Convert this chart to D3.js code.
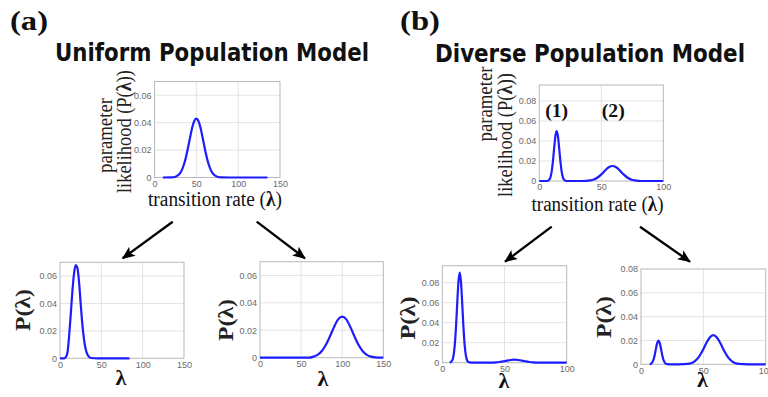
<!DOCTYPE html>
<html><head><meta charset="utf-8">
<script src="https://cdn.jsdelivr.net/npm/d3@7"></script>
<style>body{margin:0;background:#fff}</style>
</head><body>
<svg id="c" width="768" height="397" xmlns="http://www.w3.org/2000/svg"></svg>
<script>
// ---------- DATA ----------
const uniformXTicks = [0, 50, 100, 150];
const uniformYTicks = [0, 0.02, 0.04, 0.06];
const diverseXTicks = [0, 50, 100];
const diverseYTicks = [0, 0.02, 0.04, 0.06, 0.08];

// (a) top: uniform population prior
const uniTopLambda = [10,20,25,27.5,30,32.5,35,37.5,40,42.5,45,47.5,50,52.5,55,57.5,60,62.5,65,67.5,70,72.5,75,80,90,135];
const uniTopP      = [0,0.0001,0.0006,0.0013,0.0027,0.0052,0.0091,0.0146,0.0215,0.0291,0.0362,0.0412,0.043,0.0412,0.0362,0.0291,0.0215,0.0146,0.0091,0.0052,0.0027,0.0013,0.0006,0.0001,0,0];
// (a) bottom left
const uniLeftLambda = [0,5,7,9,11,13,15,17,19,21,23,25,27,29,31,33,35,38,45,60,84];
const uniLeftP      = [0,0,0.0008,0.004,0.016,0.032,0.049,0.062,0.068,0.066,0.056,0.040,0.025,0.014,0.0068,0.003,0.0011,0.0002,0,0,0];
// (a) bottom right
const uniRightLambda = [0,40,60,65,70,75,80,85,90,95,100,105,110,115,120,125,130,135,140,150];
const uniRightP      = [0,0,0,0.0008,0.0021,0.0047,0.0092,0.0154,0.0223,0.0279,0.030,0.0279,0.0223,0.0154,0.0092,0.0047,0.0021,0.0008,0.0003,0];
// (b) top: diverse population prior
const divTopLambda = [0,6,8,9,10,11,12,13,14,15,16,17,18,19,20,22,30,38,41,44,47,50,53,56,59,62,65,68,71,74,77,80,85,100];
const divTopP      = [0,0,0.0012,0.0038,0.0096,0.0198,0.0331,0.0451,0.050,0.0451,0.0331,0.0198,0.0096,0.0038,0.0012,0,0,0.0002,0.0006,0.0015,0.0035,0.0066,0.0104,0.0137,0.015,0.0137,0.0104,0.0066,0.0035,0.0015,0.0006,0.0002,0,0];
// (b) bottom left
const divLeftLambda = [6,8,9,10,11,12,13,14,15,16,17,18,19,20,21,23,30,40,43,46,49,52,55,58,61,64,67,70,73,76,82,100];
const divLeftP      = [0,0.0022,0.0068,0.0173,0.0356,0.0595,0.0812,0.090,0.0812,0.0595,0.0356,0.0173,0.0068,0.0022,0.0006,0,0,0.0001,0.0003,0.0007,0.0013,0.0021,0.0027,0.003,0.0027,0.0021,0.0013,0.0007,0.0003,0.0001,0,0];
// (b) bottom right
const divRightLambda = [7,8,9,10,11,12,13,14,15,16,17,18,19,20,21,23,30,34,37,40,43,46,49,52,55,58,61,64,67,70,73,76,79,82,86,100];
const divRightP      = [0,0.0005,0.0015,0.0038,0.0079,0.0132,0.018,0.020,0.018,0.0132,0.0079,0.0038,0.0015,0.0005,0.0001,0,0,0.0001,0.0003,0.0009,0.0025,0.0056,0.0107,0.017,0.0223,0.0245,0.0223,0.017,0.0107,0.0056,0.0025,0.0009,0.0003,0.0001,0,0];

// ---------- DRAWING ----------
const svg = d3.select("#c");
const SERIF = "'Liberation Serif','DejaVu Serif',serif";
const SANS = "'Liberation Sans',Arial,sans-serif";
const TITLE = "'DejaVu Sans',Verdana,sans-serif";

svg.append("defs").append("marker")
  .attr("id","ah").attr("markerUnits","userSpaceOnUse")
  .attr("markerWidth",14).attr("markerHeight",12)
  .attr("refX",12).attr("refY",5.5).attr("orient","auto")
  .append("path").attr("d","M0,0 L13,5.5 L0,11 L3,5.5 Z").attr("fill","#000");

const fmt = v => v === 0 ? "0" : d3.format(".2f")(v);

function panel(o){
  const x = d3.scaleLinear().domain(o.xDomain).range([o.left, o.right]);
  const y = d3.scaleLinear().domain(o.yDomain).range([o.bottom, o.top]);
  const g = svg.append("g");
  g.selectAll(null).data(o.xTicks.filter(t => t > o.xDomain[0] && t < o.xDomain[1])).join("line")
    .attr("x1", d => x(d)).attr("x2", d => x(d)).attr("y1", o.top).attr("y2", o.bottom)
    .attr("stroke","#e3e3e3").attr("stroke-width",1);
  g.selectAll(null).data(o.yTicks.filter(t => t > o.yDomain[0] && t < o.yDomain[1])).join("line")
    .attr("y1", d => y(d)).attr("y2", d => y(d)).attr("x1", o.left).attr("x2", o.right)
    .attr("stroke","#e3e3e3").attr("stroke-width",1);
  g.append("rect").attr("x",o.left).attr("y",o.top)
    .attr("width",o.right-o.left).attr("height",o.bottom-o.top)
    .attr("fill","none").attr("stroke","#b8b8b8").attr("stroke-width",1);
  const ya = g.append("g").attr("transform",`translate(${o.left},0)`)
    .call(d3.axisLeft(y).tickValues(o.yTicks).tickFormat(fmt).tickSize(0).tickPadding(3));
  const xa = g.append("g").attr("transform",`translate(0,${o.bottom})`)
    .call(d3.axisBottom(x).tickValues(o.xTicks).tickFormat(d3.format("d")).tickSize(0).tickPadding(3));
  [ya, xa].forEach(a => {
    a.select(".domain").remove();
    a.selectAll("text").attr("fill","#6a6a6a").attr("font-family",SANS).attr("font-size",9);
  });
  const data = o.lambda.map((l,i) => [l, o.p[i]]);
  g.append("path").datum(data)
    .attr("d", d3.line().x(d => x(d[0])).y(d => y(d[1])).curve(d3.curveMonotoneX))
    .attr("fill","none").attr("stroke","#1c1cff").attr("stroke-width",2.2)
    .attr("stroke-linejoin","round");
  return {x, y};
}

function vtext(bx, cy, parts, size, len, weight){
  const t = svg.append("text")
    .attr("transform",`translate(${bx},${cy}) rotate(-90)`)
    .attr("text-anchor","middle").attr("font-family",SERIF).attr("font-size",size)
    .attr("font-weight",weight||"normal").attr("fill","#222")
    .attr("textLength",len).attr("lengthAdjust","spacingAndGlyphs");
  parts.forEach(p => t.append("tspan").attr("font-weight",p[1]?"bold":null).text(p[0]));
}
function htext(x, y, parts, size, len, weight, family, anchor){
  const t = svg.append("text").attr("x",x).attr("y",y)
    .attr("text-anchor",anchor||"middle").attr("font-family",family||SERIF).attr("font-size",size)
    .attr("font-weight",weight||"normal").attr("fill","#111");
  if (len) t.attr("textLength",len).attr("lengthAdjust","spacingAndGlyphs");
  parts.forEach(p => t.append("tspan").attr("font-weight",p[1]?"bold":null).text(p[0]));
}

panel({left:154.5,right:280,top:81.5,bottom:177.5,xDomain:[0,150],yDomain:[0,0.07],
  xTicks:uniformXTicks,yTicks:uniformYTicks,lambda:uniTopLambda,p:uniTopP});
panel({left:60,right:184,top:262.3,bottom:358.3,xDomain:[0,150],yDomain:[0,0.07],
  xTicks:uniformXTicks,yTicks:uniformYTicks,lambda:uniLeftLambda,p:uniLeftP});
panel({left:260,right:383.3,top:261.7,bottom:357.7,xDomain:[0,150],yDomain:[0,0.07],
  xTicks:uniformXTicks,yTicks:uniformYTicks,lambda:uniRightLambda,p:uniRightP});
panel({left:539.3,right:663.3,top:85,bottom:181,xDomain:[0,100],yDomain:[0,0.096],
  xTicks:diverseXTicks,yTicks:diverseYTicks,lambda:divTopLambda,p:divTopP});
panel({left:442.3,right:566.7,top:265.7,bottom:362.7,xDomain:[0,100],yDomain:[0,0.097],
  xTicks:diverseXTicks,yTicks:diverseYTicks,lambda:divLeftLambda,p:divLeftP});
panel({left:641,right:765.7,top:269,bottom:364.3,xDomain:[0,100],yDomain:[0,0.08],
  xTicks:diverseXTicks,yTicks:diverseYTicks,lambda:divRightLambda,p:divRightP});

htext(10,30,[["(a)"]],28,38,"bold",SERIF,"start");
htext(400,30,[["(b)"]],28,40,"bold",SERIF,"start");
htext(55,61,[["Uniform Population Model"]],25,314,"bold",TITLE,"start");
htext(435,61.5,[["Diverse Population Model"]],25,310,"bold",TITLE,"start");

vtext(112,135.5,[["parameter"]],20,75);
vtext(131,131.5,[["likelihood (P("],["λ",1],["))"]],20,123);
vtext(492,104,[["parameter"]],20,75);
vtext(512,135,[["likelihood (P("],["λ",1],["))"]],20,124);
htext(215,206,[["transition rate ("],["λ",1],[")"]],20,134);
htext(597.5,211,[["transition rate ("],["λ",1],[")"]],20,132);

htext(556.7,117,[["(1)"]],19,23,"bold");
htext(613.3,117,[["(2)"]],19,23,"bold");

vtext(30,310,[["P("],["λ"],[")"]],22,42,"bold");
vtext(233,320,[["P("],["λ"],[")"]],22,42,"bold");
vtext(415,318,[["P("],["λ"],[")"]],22,43,"bold");
vtext(611,317,[["P("],["λ"],[")"]],22,42,"bold");
htext(121,385,[["λ"]],22,null,"bold");
htext(323,386,[["λ"]],22,null,"bold");
htext(504,388,[["λ"]],22,null,"bold");
htext(702.5,387,[["λ"]],22,null,"bold");

const arrows = [[172.7,221.7,122.7,258.3],[256.7,221.7,305,258.3],[551.7,226.7,505,261.7],[640,226.7,690,261.7]];
svg.selectAll(null).data(arrows).join("line")
  .attr("x1",d=>d[0]).attr("y1",d=>d[1]).attr("x2",d=>d[2]).attr("y2",d=>d[3])
  .attr("stroke","#000").attr("stroke-width",2.3).attr("marker-end","url(#ah)");
</script>
</body></html>
